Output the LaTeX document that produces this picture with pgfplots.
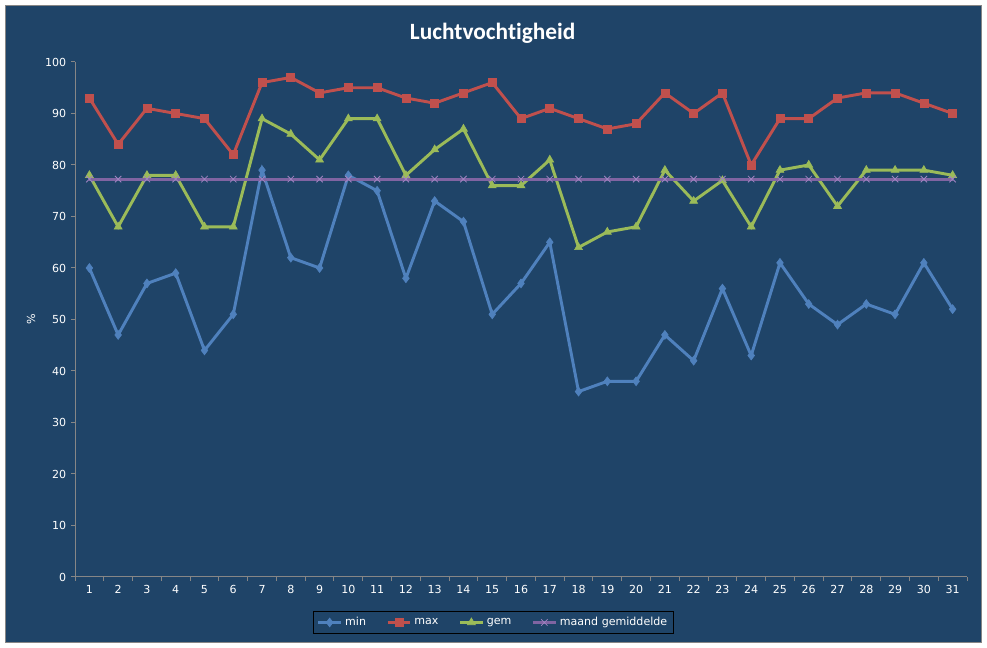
\documentclass[border=0pt]{standalone}
\usepackage{pgfplots}
\pgfplotsset{compat=1.18}
\usepackage{fontspec}
\setmainfont{DejaVu Sans}
\newfontfamily\titlefont[Ligatures=NoCommon]{Carlito}
\definecolor{bg}{HTML}{1F4468}
\definecolor{axgray}{HTML}{868686}
\definecolor{cmin}{HTML}{4F81BD}
\definecolor{cmax}{HTML}{C0504D}
\definecolor{cgem}{HTML}{9BBB59}
\definecolor{cavg}{HTML}{8064A2}
\definecolor{cavgx}{HTML}{A084C2}
\begin{document}
\begin{tikzpicture}
\fill[white] (0,0) rectangle (740.25pt,486pt);
\filldraw[fill=bg,draw=axgray,line width=0.75pt] (4.125pt,4.125pt) rectangle (736.125pt,481.875pt);
\node[text=white,font=\titlefont\fontsize{17.5}{20}\selectfont\bfseries] at (369.5pt,461pt) {Luchtvochtigheid};
\begin{axis}[
  at={(56.25pt,53.25pt)}, anchor=south west,
  scale only axis, width=669pt, height=386.25pt,
  xmin=0.5, xmax=31.5, ymin=0, ymax=100,
  axis x line=bottom, axis y line=left,
  axis line style={-,draw=axgray,line width=0.75pt},
  xtick={1,...,31},
  minor xtick={0.5,1.5,...,31.5},
  major x tick style={draw=none},
  minor x tick style={draw=axgray,line width=0.75pt},
  ytick={0,10,...,100},
  y tick style={draw=axgray,line width=0.75pt},
  tick align=outside,
  major tick length=3pt, minor tick length=3pt,
  ticklabel style={text=white,font=\fontsize{8.3}{10}\selectfont},
  /pgf/number format/assume math mode=true,
  ylabel={\%},
  every axis y label/.style={at={(axis description cs:0,0.5)},rotate=90,anchor=center,yshift=33pt,text=white,font=\fontsize{8.3}{10}\selectfont},
  legend columns=4,
  legend style={at={(0.469,-0.0883)},anchor=center,draw=black,fill=bg,
     text=white,font=\fontsize{8.3}{10}\selectfont,line width=0.75pt,
     inner sep=2.5pt,
     /tikz/every even column/.append style={column sep=13pt}},
  clip=false,
]
\addplot[cmin,line width=2.2pt,mark=diamond*,mark size=3.3pt,mark options={solid,line width=0.5pt}] coordinates {
(1,60)(2,47)(3,57)(4,59)(5,44)(6,51)(7,79)(8,62)(9,60)(10,78)(11,75)(12,58)(13,73)(14,69)(15,51)(16,57)(17,65)(18,36)(19,38)(20,38)(21,47)(22,42)(23,56)(24,43)(25,61)(26,53)(27,49)(28,53)(29,51)(30,61)(31,52)};
\addlegendentry{min}
\addplot[cmax,line width=2.2pt,mark=square*,mark size=3pt,mark options={solid,line width=0.5pt}] coordinates {
(1,93)(2,84)(3,91)(4,90)(5,89)(6,82)(7,96)(8,97)(9,94)(10,95)(11,95)(12,93)(13,92)(14,94)(15,96)(16,89)(17,91)(18,89)(19,87)(20,88)(21,94)(22,90)(23,94)(24,80)(25,89)(26,89)(27,93)(28,94)(29,94)(30,92)(31,90)};
\addlegendentry{max}
\addplot[cgem,line width=2.2pt,mark=triangle*,mark size=3.4pt,mark options={solid,line width=0.5pt}] coordinates {
(1,78)(2,68)(3,78)(4,78)(5,68)(6,68)(7,89)(8,86)(9,81)(10,89)(11,89)(12,78)(13,83)(14,87)(15,76)(16,76)(17,81)(18,64)(19,67)(20,68)(21,79)(22,73)(23,77)(24,68)(25,79)(26,80)(27,72)(28,79)(29,79)(30,79)(31,78)};
\addlegendentry{gem}
\addplot[cavg,line width=2.2pt,mark=x,mark size=3.4pt,mark options={solid,draw=cavgx,line width=0.6pt}] coordinates {
(1,77.26)(2,77.26)(3,77.26)(4,77.26)(5,77.26)(6,77.26)(7,77.26)(8,77.26)(9,77.26)(10,77.26)(11,77.26)(12,77.26)(13,77.26)(14,77.26)(15,77.26)(16,77.26)(17,77.26)(18,77.26)(19,77.26)(20,77.26)(21,77.26)(22,77.26)(23,77.26)(24,77.26)(25,77.26)(26,77.26)(27,77.26)(28,77.26)(29,77.26)(30,77.26)(31,77.26)};
\addlegendentry{maand gemiddelde}
\end{axis}
\pgfresetboundingbox
\path (0,0) rectangle (740.25pt,486pt);
\end{tikzpicture}
\end{document}
